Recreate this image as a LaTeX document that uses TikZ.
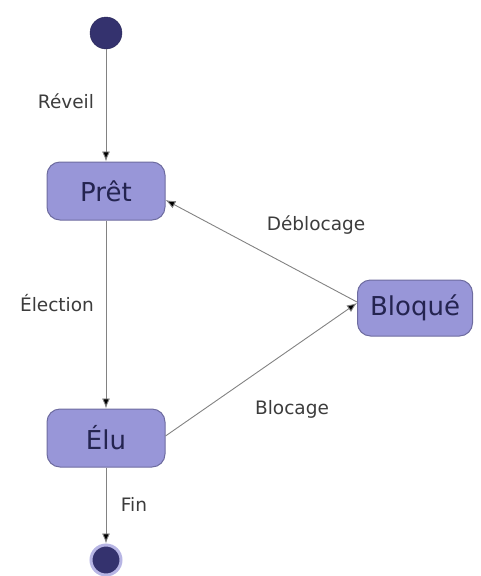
\documentclass[tikz,border=0pt]{standalone}
\usepackage{fontspec}
\setmainfont{DejaVu Sans}
\usetikzlibrary{arrows.meta}
\definecolor{boxfill}{RGB}{152,150,216}
\definecolor{boxdraw}{RGB}{110,108,160}
\definecolor{boxtext}{RGB}{36,36,80}
\definecolor{dotfill}{RGB}{52,50,110}
\definecolor{linecol}{RGB}{130,130,130}
\definecolor{labcol}{RGB}{60,60,60}
\tikzset{
  state/.style={draw=boxdraw, line width=1pt, fill=boxfill, rounded corners=13pt,
    minimum height=58pt, text=boxtext, font=\fontsize{26}{30}\selectfont},
  startdot/.style={circle, fill=dotfill, draw=dotfill!80!black, minimum size=32pt, inner sep=0pt},
  enddot/.style={circle, fill=dotfill, draw=boxfill!70!white, line width=3pt, minimum size=30pt, inner sep=0pt},
  trans/.style={draw=linecol, line width=0.9pt, -{Latex[length=10pt,width=8pt,fill=black]}},
  lab/.style={text=labcol, font=\fontsize{18.5}{22}\selectfont}
}
\begin{document}
\begin{tikzpicture}[x=1pt,y=-1pt]
\useasboundingbox (0,0) rectangle (480,576);
\node[startdot] (init) at (106,33) {};
\node[state, minimum width=118pt] (pret) at (106,191) {Prêt};
\node[state, minimum width=118pt] (elu) at (106,438) {Élu};
\node[state, minimum width=115pt, minimum height=56pt] (bloque) at (415,308) {Bloqué};
\node[enddot] (fin) at (106,560) {};
\draw[trans] (init) -- (pret);
\draw[trans] (pret) -- (elu);
\draw[trans] (elu) -- (fin);
\draw[trans] (bloque.west) ++(0,-6) coordinate (bw1) (bw1) -- (pret.north east |- 0,200) ;
\draw[trans] (elu.east) ++(0,-2) coordinate (ee) (ee) -- ([yshift=5pt]bloque.west);
\node[lab] (lreveil) at (66,101) {Réveil};
\node[lab] (lelection) at (57,303) {Élection};
\node[lab] (lfin) at (134,504) {Fin};
\node[lab] (ldeblocage) at (316,225) {Déblocage};
\node[lab] (lblocage) at (292,409) {Blocage};
\end{tikzpicture}
\end{document}
